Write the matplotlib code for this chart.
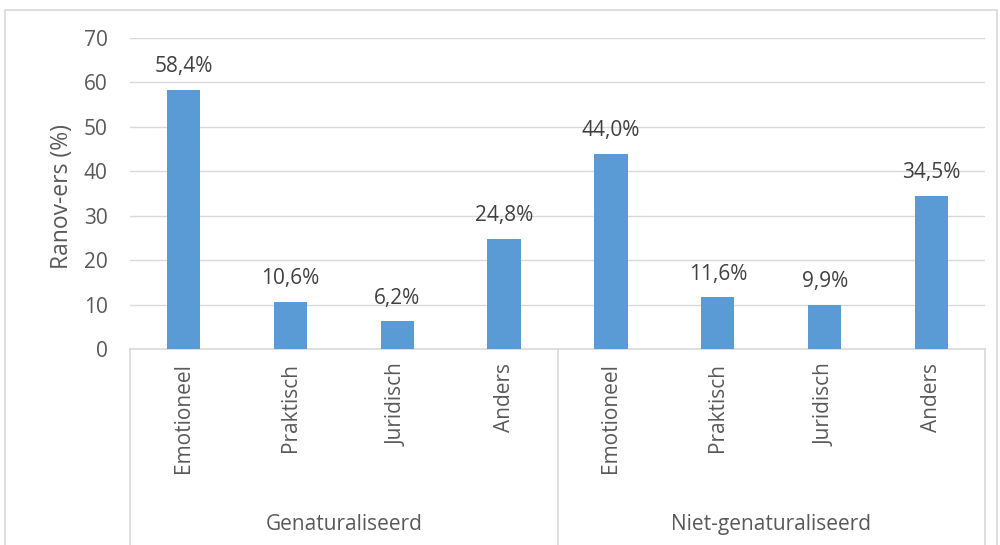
import matplotlib.pyplot as plt
from matplotlib.transforms import blended_transform_factory, offset_copy
from matplotlib.patches import Rectangle

plt.rcParams['font.family'] = ['Open Sans', 'DejaVu Sans']

# data
categories = ['Emotioneel', 'Praktisch', 'Juridisch', 'Anders',
              'Emotioneel', 'Praktisch', 'Juridisch', 'Anders']
groups = ['Genaturaliseerd', 'Niet-genaturaliseerd']
values = [58.4, 10.6, 6.2, 24.8, 44.0, 11.6, 9.9, 34.5]
yticks = [0, 10, 20, 30, 40, 50, 60, 70]

txt = '#595959'
grid = '#d9d9d9'

fig = plt.figure(figsize=(10, 5.45), dpi=100)
ax = fig.add_axes([0.13, 0.3596, 0.855, 0.5706])

x = list(range(len(values)))
ax.bar(x, values, width=0.31, color='#5b9bd5', zorder=3)
for xi, v in zip(x, values):
    ax.text(xi, v + 4.0, f'{v:.1f}%'.replace('.', ','), ha='center', va='baseline',
            fontsize=15, color='#404040')

ax.set_xlim(-0.5, len(values) - 0.5)
ax.set_ylim(0, 70)
ax.set_yticks(yticks)
ax.set_yticklabels([str(t) for t in yticks], fontsize=15, color=txt)
ax.tick_params(axis='y', length=0, pad=16)
ax.grid(axis='y', color=grid, linewidth=1, zorder=0)
for s in ['top', 'right', 'left']:
    ax.spines[s].set_visible(False)
ax.spines['bottom'].set_color(grid)
ax.spines['bottom'].set_linewidth(1.2)
ax.set_xticks([])

# category labels
tr = offset_copy(ax.transData, fig=fig, y=-10, units='points')
for xi, c in zip(x, categories):
    ax.text(xi, 0, c, rotation=90, ha='center', va='top', fontsize=15,
            color=txt, transform=tr)

# group separators and labels
bt = blended_transform_factory(ax.transData, ax.transAxes)
for sx in [-0.5, 3.5, 7.5]:
    ax.plot([sx, sx], [0, -0.7], color=grid, linewidth=1.2, transform=bt,
            clip_on=False)
for gi, g in enumerate(groups):
    ax.text(gi * 4 + 1.5, -0.563, g, ha='center', va='center', fontsize=15,
            color=txt, transform=bt)

fig.text(0.062, 0.64, 'Ranov-ers (%)', rotation=90, ha='center', va='center',
         fontsize=16.5, color=txt)

# outer chart border
fig.patches.append(Rectangle((0.005, -0.05), 0.992, 1.032, fill=False,
                             edgecolor=grid, linewidth=1.2,
                             transform=fig.transFigure))

fig.savefig('out.png', dpi=100)
